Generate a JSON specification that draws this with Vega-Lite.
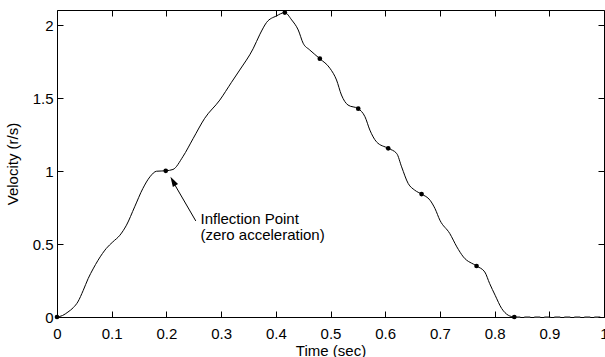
{
  "$schema": "https://vega.github.io/schema/vega-lite/v6.json",
  "width": 547,
  "height": 307,
  "autosize": "none",
  "padding": {"left": 57, "top": 10, "right": 1, "bottom": 40},
  "config": {
    "font": "Liberation Sans",
    "view": {"stroke": "#000", "strokeWidth": 1},
    "axis": {
      "grid": false,
      "domain": false,
      "labelColor": "#000",
      "titleColor": "#000",
      "labelFontSize": 15,
      "titleFontSize": 15,
      "titleFontWeight": "normal",
      "labelFlush": false,
      "labelOverlap": false,
      "labelBound": false
    }
  },
  "datasets": {
    "curve": [
      {"t": 0, "v": 0}, {"t": 0.010, "v": 0.010}, {"t": 0.020, "v": 0.034}, {"t": 0.030, "v": 0.065},
      {"t": 0.038, "v": 0.103}, {"t": 0.048, "v": 0.183}, {"t": 0.057, "v": 0.264}, {"t": 0.066, "v": 0.330},
      {"t": 0.075, "v": 0.389}, {"t": 0.083, "v": 0.435}, {"t": 0.090, "v": 0.470}, {"t": 0.102, "v": 0.515},
      {"t": 0.115, "v": 0.561}, {"t": 0.127, "v": 0.630}, {"t": 0.142, "v": 0.756}, {"t": 0.157, "v": 0.882},
      {"t": 0.170, "v": 0.962}, {"t": 0.182, "v": 1.000}, {"t": 0.1988, "v": 1.003}, {"t": 0.212, "v": 1.012},
      {"t": 0.230, "v": 1.099}, {"t": 0.249, "v": 1.225}, {"t": 0.270, "v": 1.363}, {"t": 0.2976, "v": 1.488},
      {"t": 0.319, "v": 1.610}, {"t": 0.334, "v": 1.694}, {"t": 0.3585, "v": 1.840}, {"t": 0.371, "v": 1.940},
      {"t": 0.383, "v": 2.020}, {"t": 0.401, "v": 2.065}, {"t": 0.4165, "v": 2.088},
      {"t": 0.429, "v": 2.038}, {"t": 0.441, "v": 1.969}, {"t": 0.450, "v": 1.878}, {"t": 0.462, "v": 1.832},
      {"t": 0.4805, "v": 1.772}, {"t": 0.499, "v": 1.706}, {"t": 0.511, "v": 1.626}, {"t": 0.520, "v": 1.523},
      {"t": 0.532, "v": 1.454}, {"t": 0.5507, "v": 1.429}, {"t": 0.563, "v": 1.374}, {"t": 0.572, "v": 1.282},
      {"t": 0.584, "v": 1.202}, {"t": 0.6055, "v": 1.157}, {"t": 0.621, "v": 1.122}, {"t": 0.630, "v": 1.030},
      {"t": 0.642, "v": 0.916}, {"t": 0.654, "v": 0.870}, {"t": 0.6665, "v": 0.843}, {"t": 0.682, "v": 0.801},
      {"t": 0.691, "v": 0.744}, {"t": 0.700, "v": 0.664}, {"t": 0.718, "v": 0.573}, {"t": 0.731, "v": 0.481},
      {"t": 0.743, "v": 0.412}, {"t": 0.767, "v": 0.350}, {"t": 0.782, "v": 0.309}, {"t": 0.791, "v": 0.229},
      {"t": 0.801, "v": 0.149}, {"t": 0.813, "v": 0.058}, {"t": 0.825, "v": 0.012}, {"t": 0.836, "v": 0}
    ],
    "dots": [
      {"t": 0, "v": 0}, {"t": 0.1988, "v": 1.003}, {"t": 0.4165, "v": 2.088}, {"t": 0.4805, "v": 1.772},
      {"t": 0.5507, "v": 1.429}, {"t": 0.6055, "v": 1.157}, {"t": 0.6665, "v": 0.843}, {"t": 0.767, "v": 0.350},
      {"t": 0.836, "v": 0}
    ],
    "tail": [{"t": 0.836, "v": 0}, {"t": 1, "v": 0}],
    "arrow": [{"t": 0.2537, "v": 0.659, "t2": 0.2110, "v2": 0.935}],
    "head": [{"t": 0.2120, "v": 0.932}],
    "notes": [
      {"t": 0.2623, "v": 0.6367, "label": "Inflection Point"},
      {"t": 0.2623, "v": 0.5310, "label": "(zero acceleration)"}
    ]
  },
  "resolve": {"axis": {"x": "independent", "y": "independent"}},
  "layer": [
    {
      "data": {"name": "curve"},
      "mark": {"type": "line", "color": "#000", "strokeWidth": 1, "interpolate": "monotone"},
      "encoding": {
        "x": {"field": "t", "type": "quantitative",
              "scale": {"domain": [0, 1], "nice": false, "zero": false},
              "axis": {"orient": "bottom", "values": [0, 0.1, 0.2, 0.3, 0.4, 0.5, 0.6, 0.7, 0.8, 0.9, 1],
                       "format": "~g", "title": "Time (sec)", "labelPadding": 9, "titlePadding": 2,
                       "ticks": true, "tickSize": 6, "tickColor": "#000", "tickWidth": 1, "offset": -6, "zindex": 2}},
        "y": {"field": "v", "type": "quantitative",
              "scale": {"domain": [0, 2.106], "nice": false, "zero": false},
              "axis": {"orient": "left", "values": [0, 0.5, 1, 1.5, 2], "format": "~g",
                       "title": "Velocity (r/s)", "labelPadding": 4, "titlePadding": 12,
                       "ticks": true, "tickSize": 6, "tickColor": "#000", "tickWidth": 1, "offset": -6, "zindex": 2}}
      }
    },
    {
      "data": {"name": "tail"},
      "mark": {"type": "line", "color": "#666", "strokeWidth": 1.5, "strokeDash": [6, 4]},
      "encoding": {
        "x": {"field": "t", "type": "quantitative", "axis": null},
        "y": {"field": "v", "type": "quantitative", "axis": null}
      }
    },
    {
      "data": {"name": "dots"},
      "mark": {"type": "point", "filled": true, "color": "#000", "size": 22, "opacity": 1, "clip": false},
      "encoding": {
        "x": {"field": "t", "type": "quantitative",
              "axis": {"orient": "top", "values": [0, 0.1, 0.2, 0.3, 0.4, 0.5, 0.6, 0.7, 0.8, 0.9, 1],
                       "labels": false, "title": null,
                       "ticks": true, "tickSize": 6, "tickColor": "#000", "tickWidth": 1, "offset": -6, "zindex": 2}},
        "y": {"field": "v", "type": "quantitative",
              "axis": {"orient": "right", "values": [0, 0.5, 1, 1.5, 2], "labels": false, "title": null,
                       "ticks": true, "tickSize": 6, "tickColor": "#000", "tickWidth": 1, "offset": -6, "zindex": 2}}
      }
    },
    {
      "data": {"name": "arrow"},
      "mark": {"type": "rule", "color": "#000", "strokeWidth": 1},
      "encoding": {
        "x": {"field": "t", "type": "quantitative", "axis": null},
        "y": {"field": "v", "type": "quantitative", "axis": null},
        "x2": {"field": "t2"},
        "y2": {"field": "v2"}
      }
    },
    {
      "data": {"name": "head"},
      "mark": {"type": "point", "filled": true, "color": "#000", "opacity": 1, "size": 100,
               "shape": "M0,-1L0.6,1L-0.6,1Z", "angle": -30},
      "encoding": {
        "x": {"field": "t", "type": "quantitative", "axis": null},
        "y": {"field": "v", "type": "quantitative", "axis": null}
      }
    },
    {
      "data": {"name": "notes"},
      "mark": {"type": "text", "align": "left", "baseline": "alphabetic", "fontSize": 15, "color": "#000"},
      "encoding": {
        "x": {"field": "t", "type": "quantitative", "axis": null},
        "y": {"field": "v", "type": "quantitative", "axis": null},
        "text": {"field": "label"}
      }
    }
  ]
}
